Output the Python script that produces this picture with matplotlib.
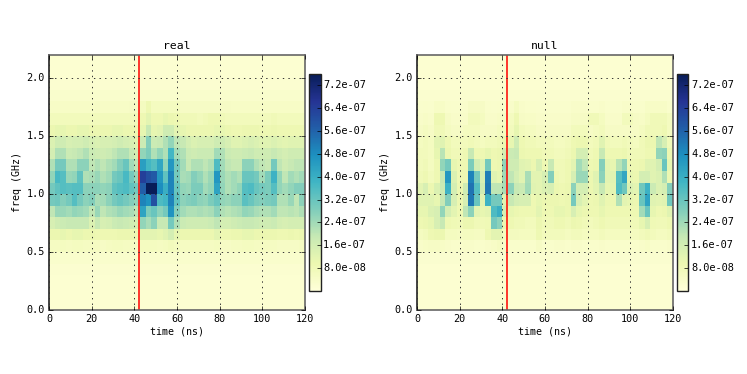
import numpy as np
import matplotlib
matplotlib.use('Agg')
import matplotlib.pyplot as plt

# power in units of 1e-7, rows run from 0.0-0.1 GHz up to 2.1-2.2 GHz, 45 time bins
real_low = [
    [.2]*45,
    [.2]*45,
    [.2]*45,
    [.22]*45,
    [.3]*45,
    [.55,.55,.6,.55,.6,.6,.55,.55,.55,.5,.55,.6,.6,.55,.55,.5,.6,.6,.6,.55,.6,.7,.6,.55,.55,.55,.55,.55,.55,.6,.5,.5,.55,.55,.6,.6,.55,.55,.55,.55,.5,.5,.5,.5,.55],
    [1.0,1.0,1.1,1.0,1.1,1.1,1.0,1.0,.9,.9,.9,.9,1.0,1.0,1.0,.9,1.2,1.2,1.2,1.1,1.3,1.6,1.1,1.0,1.0,1.0,1.0,1.0,1.0,1.2,.9,.9,1.0,1.0,1.1,1.1,1.0,1.0,1.0,1.0,.9,.9,1.0,.9,1.0],
    [1.5,1.7,1.8,1.9,1.9,1.9,1.9,1.4,1.9,1.5,1.6,1.8,1.9,1.8,1.7,1.5,2.6,2.3,2.7,1.9,1.9,3.0,2.2,1.8,1.7,1.7,1.7,1.7,1.8,2.0,1.6,1.6,1.7,1.8,1.9,1.9,1.8,1.7,1.7,1.8,1.6,1.5,1.6,1.6,1.6],
    [2.0,2.5,2.5,2.4,2.6,2.5,2.4,2.0,2.5,2.0,2.2,2.3,2.5,2.4,2.3,2.0,4.3,2.9,3.2,2.7,3.0,4.7,2.8,2.4,2.2,2.2,2.3,2.2,2.3,2.7,2.2,2.1,2.2,2.3,2.6,2.5,2.3,2.2,2.2,2.4,2.0,2.0,2.1,2.0,2.2],
    [3.0,3.1,2.8,3.0,3.5,3.0,2.7,2.8,2.3,2.4,2.7,3.0,3.2,3.0,2.8,2.6,5.0,4.7,6.0,3.6,3.8,5.0,3.3,2.7,2.8,2.9,2.7,2.6,2.9,3.2,2.6,2.5,2.7,2.7,3.4,3.2,2.9,2.8,2.9,3.0,2.2,2.2,2.5,2.0,2.7],
]
real_high = [
    [3.0,3.3,3.5,3.4,3.5,3.5,2.7,2.7,2.7,2.6,2.7,3.3,3.5,3.6,3.3,3.0,5.7,7.6,7.6,4.8,4.0,5.0,3.2,2.6,2.5,2.9,2.9,2.4,2.6,4.3,2.6,2.2,2.4,2.6,3.5,3.6,3.2,3.0,2.9,3.5,2.6,2.4,2.6,2.8,2.8],
    [2.6,3.7,3.5,2.5,2.6,3.3,2.2,2.3,2.5,2.2,2.4,3.0,3.2,3.7,3.0,2.5,6.4,6.0,5.8,4.6,3.3,5.0,3.0,2.3,2.4,2.8,2.6,2.2,2.5,4.6,2.5,2.2,2.4,2.2,3.2,3.2,3.0,2.4,2.9,3.9,2.6,2.0,2.4,2.2,2.4],
    [2.2,3.0,3.0,2.2,2.2,2.7,2.7,2.0,2.2,2.0,2.2,2.4,2.8,3.2,2.4,2.0,4.4,3.8,3.5,4.2,2.6,4.6,3.0,2.4,1.9,2.2,2.2,2.0,2.2,3.6,2.4,2.0,1.9,1.9,2.7,2.7,2.2,2.0,1.9,3.0,2.0,1.7,1.9,2.0,2.0],
    [1.6,2.2,2.2,1.8,1.9,2.0,2.2,1.8,1.7,1.7,1.8,2.0,2.2,2.2,1.9,1.6,2.6,2.9,2.2,2.6,2.2,3.8,2.4,2.2,1.8,1.7,1.8,1.8,1.8,2.4,2.2,1.8,1.7,1.7,1.8,1.9,1.7,1.7,1.7,1.9,1.7,1.6,1.7,1.7,1.7],
    [1.4,1.7,1.7,1.5,1.6,1.6,1.7,1.5,1.4,1.5,1.5,1.6,1.7,1.6,1.5,1.3,1.8,2.8,1.8,1.9,2.2,2.6,2.0,1.9,1.6,1.4,1.5,1.5,1.5,1.7,1.7,1.5,1.3,1.3,1.4,1.5,1.4,1.3,1.3,1.4,1.3,1.2,1.3,1.3,1.3],
    [1.0,1.1,1.1,1.0,1.0,1.1,1.1,1.0,1.0,1.0,1.0,1.1,1.1,1.0,1.0,.9,1.1,1.9,1.1,1.2,1.7,1.7,1.2,1.1,1.0,1.0,1.0,1.0,1.0,1.1,1.1,1.0,.9,.9,1.0,1.0,1.0,.9,.9,1.0,.9,.9,.9,.9,.9],
    [.7,.7,.7,.7,.7,.7,.7,.7,.7,.7,.7,.7,.7,.7,.7,.7,.9,1.2,.9,.9,1.1,1.0,.9,.8,.8,.8,.7,.8,.9,.9,.8,.7,.7,.7,.7,.7,.7,.7,.7,.8,.7,.7,.7,.7,.7],
    [.45,.45,.45,.45,.45,.45,.45,.45,.5,.45,.45,.45,.45,.45,.5,.5,.6,.9,.6,.6,.6,.6,.6,.5,.5,.5,.5,.5,.5,.5,.5,.5,.45,.45,.45,.45,.45,.45,.45,.45,.45,.45,.45,.45,.45],
    [.3]*45,
    [.22]*45,
    [.2]*45,
    [.2]*45,
]

null_low = [
    [.18]*45,
    [.18]*45,
    [.18]*45,
    [.2]*45,
    [.25]*45,
    [.4,.45,.5,.5,.45,.4,.35,.35,.4,.4,.35,.35,.4,.45,.55,.4,.35,.35,.35,.35,.35,.5,.35,.35,.4,.4,.35,.4,.4,.35,.35,.35,.4,.35,.35,.35,.35,.35,.35,.4,.45,.35,.35,.35,.4],
    [.6,.7,.9,1.0,1.0,.6,.6,.55,.6,.6,.55,.55,.9,1.2,1.2,.6,.65,.65,.6,.6,.6,.9,.7,.7,.7,.7,.6,.7,.7,.6,.6,.6,.7,.6,.6,.6,.6,.6,.6,.7,.8,.7,.6,.6,.7],
    [.9,1.0,1.1,1.5,1.9,.9,.85,.8,1.0,1.0,.8,.8,.85,3.0,2.7,1.0,.9,.8,.8,.7,.7,1.0,.8,.8,.9,.9,.8,1.0,.9,.8,.7,.8,.9,.8,.8,.8,.8,.8,.8,1.1,1.5,.85,.8,.8,.9],
    [1.1,1.1,1.4,1.5,2.6,1.6,1.2,.9,2.0,2.7,1.2,1.1,1.2,3.6,4.0,1.5,1.1,1.0,.9,.9,.9,1.2,.9,.9,1.1,1.1,1.0,1.5,1.1,1.0,.9,.9,1.1,.9,.9,.9,.9,.9,.9,2.4,3.2,1.1,.9,1.0,1.3],
    [1.3,1.3,1.3,1.1,1.9,2.8,1.5,1.0,1.5,5.2,3.2,1.3,3.9,3.0,3.0,1.3,1.9,1.6,1.5,1.5,.9,1.1,1.0,1.0,1.0,.9,1.0,3.0,1.5,1.2,.9,1.0,1.3,1.0,1.0,2.2,1.2,1.1,1.0,3.2,4.3,1.3,1.2,1.3,3.1],
]
null_high = [
    [1.2,1.5,1.0,1.4,1.8,3.9,1.6,1.0,1.7,5.3,3.5,1.7,5.2,2.0,2.0,2.3,2.7,1.9,1.8,2.4,1.3,1.2,1.4,1.5,1.0,.9,1.0,2.7,1.6,1.6,1.0,1.2,1.9,1.1,1.2,3.6,3.1,1.4,1.2,3.1,3.9,1.8,1.4,1.6,2.8],
    [.8,.9,.7,.9,1.9,4.6,1.4,.9,.9,5.0,3.0,1.5,5.1,1.3,1.1,2.4,2.0,1.6,1.3,2.3,1.2,1.2,1.5,2.8,.9,.8,.9,1.5,2.5,2.5,1.0,1.3,2.7,1.2,1.3,3.5,4.2,1.1,1.0,1.6,1.6,1.3,1.4,2.2,1.0],
    [.7,.8,.6,.9,2.6,3.0,1.1,.9,.9,2.9,1.6,1.3,3.0,.9,1.0,2.6,1.7,1.7,1.3,1.2,1.0,1.5,.9,1.9,.8,.8,.9,1.2,2.4,2.0,.9,1.0,2.8,1.2,1.1,2.1,2.6,.9,.9,1.0,1.3,1.3,1.6,3.2,1.1],
    [.7,.7,.6,1.1,2.1,1.0,.8,.8,.9,1.9,.9,.9,1.1,.9,1.0,1.6,1.8,1.9,1.0,.9,.9,.9,.8,.8,.7,.7,.8,1.0,1.6,1.6,.8,.9,1.9,.9,.9,.9,1.0,.8,.8,.8,.9,.9,2.6,2.7,1.0],
    [.6,.7,.6,1.2,1.3,.9,.7,.7,.7,.8,.7,.6,.7,.7,.8,1.0,1.1,1.7,.9,.8,.8,.7,.7,.7,.6,.6,.7,.9,1.0,1.0,.7,.8,1.3,.8,.7,.7,.8,.7,.6,.8,1.0,1.0,2.0,1.5,.8],
    [.5,.6,.5,.8,.8,.6,.5,.5,.6,.6,.6,.5,.5,.5,.6,.6,.7,1.1,.7,.6,.6,.5,.5,.5,.5,.5,.5,.7,.7,.7,.5,.6,.7,.5,.5,.5,.5,.5,.5,.6,.8,.8,.8,.9,.6],
    [.4,.45,.4,.9,.9,.5,.4,.4,.4,.7,.7,.6,.4,.4,.45,.5,.6,.9,.5,.45,.45,.4,.4,.4,.4,.4,.4,.5,.5,.5,.8,.8,.6,.4,.4,.4,.7,.7,.5,.45,.6,.8,.8,.8,.6],
    [.3,.35,.3,.45,.45,.35,.3,.3,.35,.5,.5,.5,.35,.3,.35,.35,.4,.6,.4,.35,.35,.3,.3,.3,.3,.3,.3,.4,.4,.4,.35,.35,.4,.3,.3,.3,.4,.4,.35,.35,.45,.45,.45,.45,.35],
    [.25]*45,
    [.2]*45,
    [.18]*45,
    [.18]*45,
]

time_edges = np.linspace(0, 120, 46)
freq_edges = np.linspace(0, 2.2, 23)
vmax = 7.6e-7
cb_ticks = [8e-8, 1.6e-7, 2.4e-7, 3.2e-7, 4.0e-7, 4.8e-7, 5.6e-7, 6.4e-7, 7.2e-7]
marker_ns = 42

plt.style.use('classic')
plt.rcParams['font.family'] = 'DejaVu Sans Mono'
plt.rcParams['font.size'] = 7.5

W, H = 747., 374.
fig = plt.figure(figsize=(W / 100, H / 100), dpi=100, facecolor='white')

def panel(left, title, low, high):
    ax = fig.add_axes([left / W, 1 - 310 / H, 256 / W, 255 / H])
    data = np.array(low + high) * 1e-7
    mesh = ax.pcolormesh(time_edges, freq_edges, data, cmap='YlGnBu', vmin=0, vmax=vmax, linewidth=0, rasterized=True)
    ax.axvline(marker_ns, color='red', lw=1.1)
    ax.set_xlim(0, 120)
    ax.set_ylim(0, 2.2)
    ax.set_xticks(np.arange(0, 121, 20))
    ax.set_yticks([0, .5, 1, 1.5, 2])
    ax.grid(True, color='#333333', linestyle=':', linewidth=0.7)
    ax.set_axisbelow(False)
    ax.tick_params(labelsize=7.3, pad=3, length=3, top=True, right=True)
    ax.set_xlabel('time (ns)', fontsize=7.2, labelpad=2)
    ax.set_ylabel('freq (GHz)', fontsize=7.2, labelpad=3)
    ax.set_title(title, fontsize=8.2, pad=4)
    for s in ax.spines.values():
        s.set_color('#666666')
        s.set_linewidth(1.2)
    ax.spines['left'].set_color('#222222')
    cax = fig.add_axes([(left + 260) / W, 1 - 291 / H, 11.5 / W, 217 / H])
    cb = fig.colorbar(mesh, cax=cax, ticks=cb_ticks, format='%.1e')
    cb.ax.tick_params(labelsize=7.4, pad=2, length=3)
    cb.outline.set_edgecolor('#222222')
    cb.outline.set_linewidth(1.0)
    return ax

panel(49, 'real', real_low, real_high)
panel(417, 'null', null_low, null_high)

fig.savefig('out.png', dpi=100, facecolor='white')
